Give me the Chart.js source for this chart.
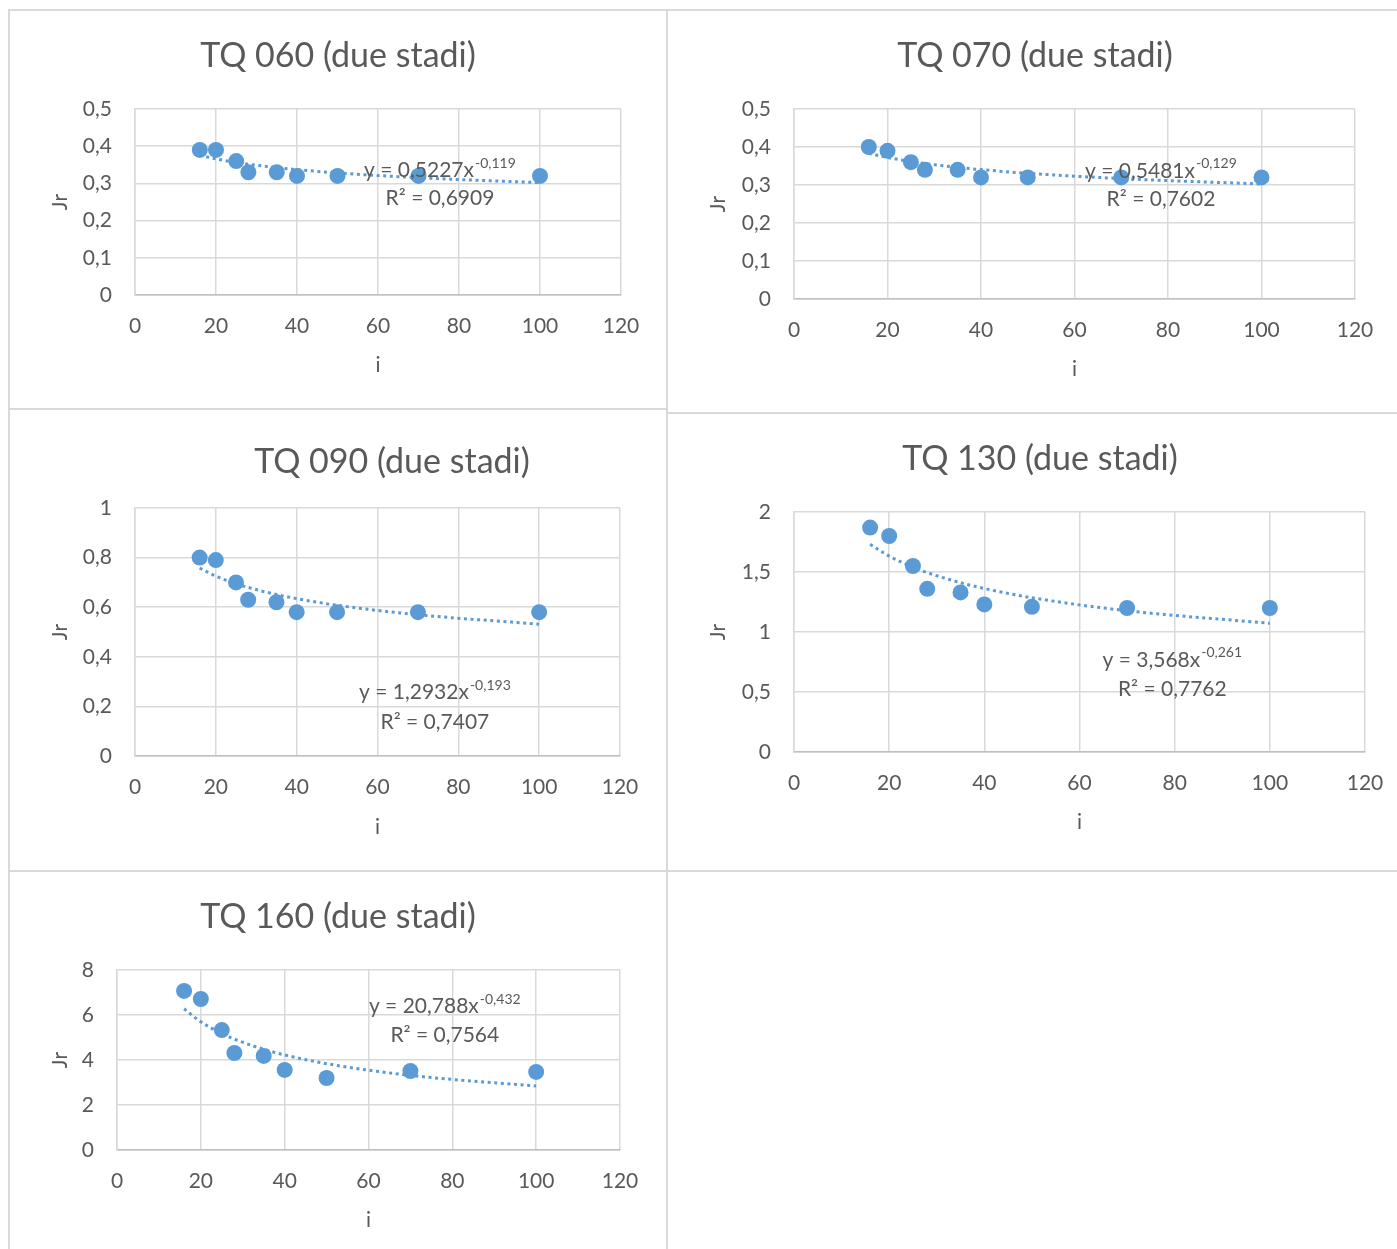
<!DOCTYPE html>
<html>
<head>
<meta charset="utf-8">
<script src="https://cdn.jsdelivr.net/npm/chart.js@4.4.0/dist/chart.umd.min.js"></script>
<style>
html,body{margin:0;padding:0;background:#fff;}
body{width:1397px;height:1249px;position:relative;overflow:hidden;}
.ln{position:absolute;background:#d9d9d9;}
canvas{position:absolute;}
</style>
</head>
<body>
<div class="ln" style="left:8px;top:9px;width:1389px;height:2px"></div>
<div class="ln" style="left:8px;top:9px;width:2px;height:1240px"></div>
<div class="ln" style="left:666px;top:9px;width:2px;height:1240px"></div>
<div class="ln" style="left:8px;top:408px;width:659px;height:2px"></div>
<div class="ln" style="left:667px;top:412px;width:730px;height:2px"></div>
<div class="ln" style="left:8px;top:870px;width:1389px;height:2px"></div>

<canvas id="c1"></canvas>
<canvas id="c2"></canvas>
<canvas id="c3"></canvas>
<canvas id="c4"></canvas>
<canvas id="c5"></canvas>

<script>
// data
const iVals  = [16, 20, 25, 28, 35, 40, 50, 70, 100];
const jr060  = [0.39, 0.39, 0.36, 0.33, 0.33, 0.32, 0.32, 0.32, 0.32];
const jr070  = [0.40, 0.39, 0.36, 0.34, 0.34, 0.32, 0.32, 0.32, 0.32];
const jr090  = [0.80, 0.79, 0.70, 0.63, 0.62, 0.58, 0.58, 0.58, 0.58];
const jr130  = [1.87, 1.80, 1.55, 1.36, 1.33, 1.23, 1.21, 1.20, 1.20];
const jr160  = [7.07, 6.71, 5.33, 4.31, 4.18, 3.56, 3.20, 3.51, 3.47];

const titles = ["TQ 060 (due stadi)","TQ 070 (due stadi)","TQ 090 (due stadi)","TQ 130 (due stadi)","TQ 160 (due stadi)"];
const fitA   = [0.5227, 0.5481, 1.2932, 3.568, 20.788];   // power trendline y = a*x^b
const fitB   = [-0.119, -0.129, -0.193, -0.261, -0.432];
const fitR2  = ["0,6909", "0,7602", "0,7407", "0,7762", "0,7564"];
const yMaxes = [0.5, 0.5, 1, 2, 8];
const ySteps = [0.1, 0.1, 0.2, 0.5, 2];
const series = [jr060, jr070, jr090, jr130, jr160];

const BLUE = "#5B9BD5", TXT = "#595959", GRID = "#d9d9d9";
const FONT = "Lato";
const TK = 21; // tick / axis title size

// page layout: canvas box, plot rect [l,t,r,b], title centre, axis title spots, equation anchor (data units)
const boxes = [
  {id:"c1", x:10,  y:11,  w:656, h:397, plot:[135,109,621,295], title:[338,56],  jrX:60,  iY:365,  eq:[75.3,0.336,0.261]},
  {id:"c2", x:668, y:11,  w:729, h:401, plot:[794,109,1355,299], title:[1035,56], jrX:718, iY:369,  eq:[78.5,0.337,0.263]},
  {id:"c3", x:10,  y:410, w:656, h:460, plot:[135,508,620,756], title:[392,462], jrX:60,  iY:827,  eq:[74.2,0.258,0.137]},
  {id:"c4", x:668, y:414, w:729, h:456, plot:[794,512,1365,752], title:[1040,459],jrX:718, iY:822,  eq:[79.5,0.767,0.525]},
  {id:"c5", x:10,  y:872, w:656, h:377, plot:[117,970,620,1150], title:[338,917], jrX:60,  iY:1220, eq:[78.2,6.40,5.11]}
];

const tickFmt = v => String(Math.round(v*1000)/1000).replace(".", ",");
const comma = v => String(v).replace(".", ",");

const textPlugin = {
  id: "texts",
  afterDatasetsDraw(chart, args, o){
    const ctx = chart.ctx, sx = chart.scales.x, sy = chart.scales.y;
    ctx.save();
    ctx.fillStyle = TXT;
    ctx.textBaseline = "middle";
    ctx.textAlign = "center";
    ctx.font = "34px " + FONT;
    ctx.fillText(o.title, o.tx, o.ty);

    const big = "21px " + FONT, small = "14px " + FONT;
    ctx.font = big;  const w1 = ctx.measureText(o.eqMain).width;
    ctx.font = small; const w2 = ctx.measureText(o.eqSup).width;
    const cx = sx.getPixelForValue(o.eqX);
    const x0 = cx - (w1 + w2 + 1) / 2;
    const y1 = sy.getPixelForValue(o.eqY1);
    ctx.textAlign = "left";
    ctx.font = big;   ctx.fillText(o.eqMain, x0, y1);
    ctx.font = small; ctx.fillText(o.eqSup, x0 + w1 + 1, y1 - 7);
    ctx.textAlign = "center";
    ctx.font = big;
    ctx.fillText("R\u00B2 = " + o.r2, cx, sy.getPixelForValue(o.eqY2));
    ctx.restore();
  }
};

function makeChart(k){
  const b = boxes[k];
  const cv = document.getElementById(b.id);
  cv.width = b.w; cv.height = b.h;
  cv.style.left = b.x + "px"; cv.style.top = b.y + "px";
  const [pl, pt, pr, pb] = b.plot;
  const lh = TK * 1.2;
  const yTitlePad = (b.jrX - b.x) - lh/2;
  const xTitlePad = (b.y + b.h - b.iY) - lh/2;

  const pts = iVals.map((x,i) => ({x, y: series[k][i]}));
  const trend = iVals.map(x => ({x, y: fitA[k] * Math.pow(x, fitB[k])}));

  new Chart(cv.getContext("2d"), {
    type: "scatter",
    data: {datasets: [
      {data: trend, showLine: true, pointRadius: 0, borderColor: BLUE, borderWidth: 3,
       borderDash: [3, 3.6], cubicInterpolationMode: "monotone", order: 0},
      {data: pts, pointRadius: 8, pointBackgroundColor: BLUE, pointBorderWidth: 0, order: 1}
    ]},
    options: {
      responsive: false, animation: false, events: [],
      layout: {padding: {left: 0, top: pt - b.y, right: b.x + b.w - pr, bottom: 0}},
      plugins: {
        legend: {display: false}, tooltip: {enabled: false},
        texts: {title: titles[k], tx: b.title[0] - b.x, ty: b.title[1] - b.y,
                eqMain: "y = " + comma(fitA[k]) + "x", eqSup: comma(fitB[k]),
                eqX: b.eq[0], eqY1: b.eq[1], eqY2: b.eq[2], r2: fitR2[k]}
      },
      scales: {
        x: {
          type: "linear", min: 0, max: 120,
          ticks: {stepSize: 20, padding: 18.5, color: TXT, font: {family: FONT, size: TK}, maxRotation: 0},
          grid: {color: GRID, lineWidth: 1.5, drawTicks: false},
          border: {color: "#bfbfbf", width: 1.5},
          title: {display: true, text: "i", color: TXT, font: {family: FONT, size: TK}, padding: {top: 0, bottom: xTitlePad}},
          afterFit(s){ s.height = b.y + b.h - pb; s.paddingRight = 20; s.paddingLeft = 8; }
        },
        y: {
          min: 0, max: yMaxes[k],
          ticks: {stepSize: ySteps[k], padding: 23, color: TXT, font: {family: FONT, size: TK}, callback: v => tickFmt(v)},
          grid: {color: GRID, lineWidth: 1.5, drawTicks: false},
          border: {color: GRID, width: 1.5},
          title: {display: true, text: "Jr", color: TXT, font: {family: FONT, size: TK}, padding: {top: yTitlePad, bottom: 0}},
          afterFit(s){ s.width = pl - b.x; }
        }
      }
    },
    plugins: [textPlugin]
  });
}

for(let k = 0; k < boxes.length; k++) makeChart(k);
</script>
</body>
</html>
